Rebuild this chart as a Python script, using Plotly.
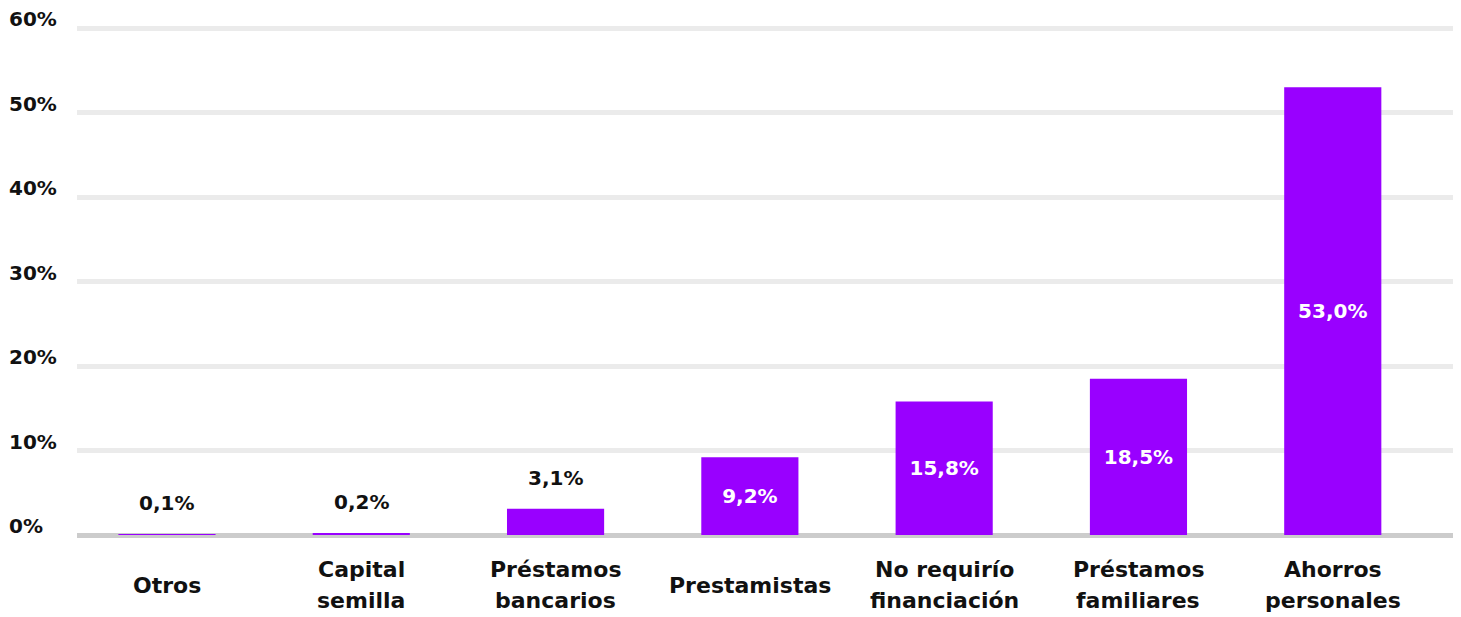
import plotly.graph_objects as go

# Fuentes de financiamiento (% de emprendedores)
categories = ["Otros", "Capital<br>semilla", "Préstamos<br>bancarios", "Prestamistas",
              "No requirío<br>financiación", "Préstamos<br>familiares", "Ahorros<br>personales"]
shares = [0.1, 0.2, 3.1, 9.2, 15.8, 18.5, 53.0]
y_ticks = [0, 10, 20, 30, 40, 50, 60]

PURPLE = "#9900ff"
FONT = "DejaVu Sans"
INK = "#111111"

labels = [f"{v:.1f}%".replace(".", ",") for v in shares]
inside = [v >= 5 for v in shares]

fig = go.Figure(go.Bar(
    x=list(range(len(categories))),
    y=shares,
    width=0.5,
    marker=dict(color=PURPLE, line=dict(width=0)),
    text=[lab if ins else "" for lab, ins in zip(labels, inside)],
    textposition="inside",
    insidetextanchor="middle",
    textangle=0,
    constraintext="none",
    textfont=dict(family=FONT, size=20, weight="bold", color="white"),
    hoverinfo="skip",
))

annotations = []
# value labels above the short bars
for i, (v, lab, ins) in enumerate(zip(shares, labels, inside)):
    if not ins:
        annotations.append(dict(
            x=i, xref="x", y=v, yref="y", yanchor="middle", yshift=31,
            text=lab, showarrow=False,
            font=dict(family=FONT, size=20, weight="bold", color=INK),
        ))
# y-axis labels, left aligned at the page edge
for t in y_ticks:
    annotations.append(dict(
        x=-69 / 1384, xref="paper", xanchor="left",
        y=t, yref="y", yanchor="middle", yshift=9, borderpad=0,
        text=f"{t}%", showarrow=False,
        font=dict(family=FONT, size=20, weight="bold", color=INK),
    ))
# category labels, vertically centred under the baseline
for i, c in enumerate(categories):
    lines = c.split("<br>")
    n = len(lines)
    for k, line in enumerate(lines):
        annotations.append(dict(
            x=i, xref="x", xanchor="center",
            y=0, yref="paper", yanchor="middle",
            yshift=-50 - (k - (n - 1) / 2) * 31,
            text=line, showarrow=False,
            font=dict(family=FONT, size=22, weight="bold", color=INK),
        ))

fig.update_layout(
    width=1453, height=609,
    margin=dict(l=69, r=0, t=16, b=82),
    paper_bgcolor="white", plot_bgcolor="white",
    showlegend=False,
    annotations=annotations,
    xaxis=dict(range=[-0.463, 6.66], showticklabels=False, showgrid=False,
               zeroline=False, showline=False, fixedrange=True),
    yaxis=dict(range=[0, 60.5], tickvals=y_ticks, showticklabels=False,
               showgrid=True, gridcolor="#ebebeb", gridwidth=5,
               zeroline=True, zerolinecolor="#cccccc", zerolinewidth=5,
               showline=False, fixedrange=True),
)

fig.write_html("out.html")
